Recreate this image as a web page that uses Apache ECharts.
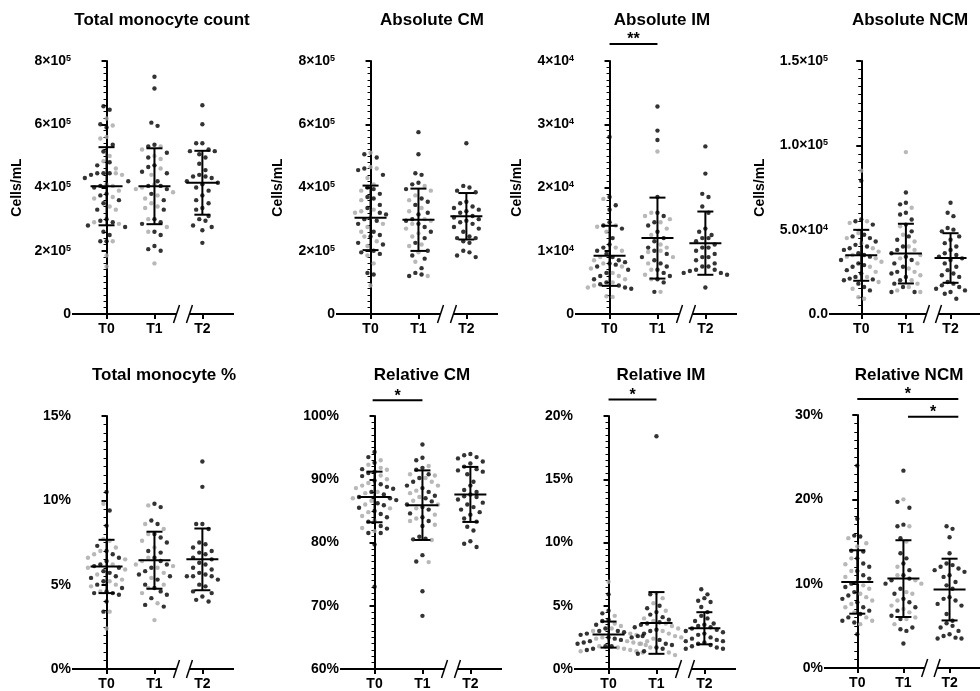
<!DOCTYPE html>
<html>
<head>
<meta charset="utf-8">
<title>Monocyte subsets</title>
<script src="https://cdn.jsdelivr.net/npm/echarts@6/dist/echarts.min.js"></script>
<style>html,body{margin:0;padding:0;background:#fff}#main{width:980px;height:691px}</style>
</head>
<body>
<div id="main"></div>
<script>
var timePoints = ['T0', 'T1', 'T2'];

// Total monocyte count (x10^5 cells/mL)
var countT0Black = [6.57, 6.46, 6.0, 5.9, 5.35, 5.14, 4.8, 4.7, 4.45, 4.45, 4.4, 4.45, 4.3, 4.2, 4.05, 4.0, 3.8, 3.75, 3.6, 3.5, 3.3, 3.0, 2.95, 2.9, 2.8, 2.75, 2.6, 2.5, 2.3, 2.3];
var countT0Gray = [6.18, 5.96, 5.6, 5.55, 5.0, 4.83, 4.6, 4.45, 4.4, 4.1, 4.05, 3.9, 3.7, 3.65, 3.4, 3.3, 2.9, 2.85, 2.3, 1.85, 1.5];
var countT1Black = [7.5, 7.13, 6.05, 5.95, 5.35, 5.3, 5.1, 4.95, 4.65, 4.7, 4.5, 4.45, 4.2, 4.05, 4.05, 3.95, 3.8, 3.6, 3.3, 3.0, 2.9, 2.85, 2.6, 2.5, 2.15, 2.05, 2.0];
var countT1Gray = [5.3, 5.2, 5.0, 4.9, 4.6, 4.4, 4.1, 4.0, 3.95, 3.85, 3.75, 3.65, 3.5, 3.4, 3.35, 3.0, 2.75, 2.6, 1.6];
var countT2Black = [6.6, 6.0, 5.4, 5.4, 5.2, 5.15, 5.15, 5.05, 4.95, 4.75, 4.55, 4.4, 4.35, 4.35, 4.3, 4.2, 4.15, 4.1, 4.0, 3.9, 3.75, 3.6, 3.5, 3.35, 3.3, 3.1, 3.0, 2.95, 2.8, 2.75, 2.65, 2.25];
var countMean = [4.04, 4.04, 4.15];
var countSd = [1.235, 1.2, 1.01];

// Absolute CM (x10^5 cells/mL)
var cmAbsT0Black = [5.05, 4.95, 4.6, 4.55, 4.4, 4.0, 3.95, 3.8, 3.7, 3.65, 3.45, 3.35, 3.2, 3.15, 3.0, 2.95, 2.85, 2.6, 2.5, 2.45, 2.25, 2.2, 2.0, 1.95, 1.9, 1.3, 1.25];
var cmAbsT0Gray = [5.1, 4.65, 4.6, 4.3, 4.1, 3.9, 3.6, 3.3, 3.25, 3.2, 3.05, 2.85, 2.75, 2.6, 2.45, 2.3, 2.15, 1.85, 1.6, 0.9];
var cmAbsT1Black = [5.75, 5.05, 4.45, 4.4, 4.15, 4.1, 3.95, 3.65, 3.55, 3.45, 3.2, 3.15, 3.0, 2.95, 2.85, 2.75, 2.6, 2.4, 2.25, 2.0, 1.85, 1.75, 1.45, 1.3, 1.2, 1.25];
var cmAbsT1Gray = [4.05, 3.9, 3.75, 3.6, 3.35, 3.25, 3.0, 2.95, 2.85, 2.7, 2.55, 2.45, 2.2, 2.15, 1.95, 1.65, 1.2];
var cmAbsT2Black = [5.4, 4.05, 4.0, 3.9, 3.85, 3.55, 3.5, 3.4, 3.35, 3.3, 3.25, 3.2, 3.1, 3.05, 3.0, 2.95, 2.9, 2.85, 2.75, 2.7, 2.6, 2.45, 2.4, 2.4, 2.3, 2.25, 2.0, 1.95, 1.85, 1.8];
var cmAbsMean = [3.04, 2.98, 3.09];
var cmAbsSd = [1.02, 0.985, 0.735];

// Absolute IM (x10^4 cells/mL)
var imAbsT0Black = [2.8, 1.85, 1.72, 1.65, 1.45, 1.4, 1.35, 1.2, 1.1, 1.05, 1.0, 0.95, 0.9, 0.85, 0.82, 0.8, 0.78, 0.75, 0.7, 0.65, 0.6, 0.55, 0.5, 0.47, 0.45, 0.42, 0.4];
var imAbsT0Gray = [1.82, 1.4, 1.38, 1.3, 1.05, 1.0, 0.9, 0.85, 0.8, 0.75, 0.72, 0.65, 0.6, 0.55, 0.5, 0.45, 0.42, 0.28, 0.27];
var imAbsT1Black = [3.28, 2.9, 2.75, 1.85, 1.6, 1.55, 1.45, 1.4, 1.3, 1.2, 1.15, 1.05, 1.0, 0.95, 0.9, 0.85, 0.8, 0.75, 0.7, 0.65, 0.6, 0.55, 0.5, 0.35];
var imAbsT1Gray = [2.57, 1.6, 1.55, 1.5, 1.45, 1.35, 1.25, 1.1, 1.05, 1.0, 0.98, 0.9, 0.8, 0.7, 0.62, 0.55, 0.35];
var imAbsT2Black = [2.65, 2.22, 1.9, 1.85, 1.7, 1.6, 1.35, 1.3, 1.25, 1.2, 1.2, 1.15, 1.1, 1.05, 1.05, 1.0, 0.95, 0.9, 0.9, 0.85, 0.8, 0.75, 0.75, 0.7, 0.7, 0.68, 0.65, 0.65, 0.62, 0.42];
var imAbsMean = [0.92, 1.2, 1.12];
var imAbsSd = [0.475, 0.64, 0.5];
var imAbsSig = [[0, 1, 4.27, '**']];

// Absolute NCM (x10^4 cells/mL)
var ncmAbsT0Black = [7.9, 5.6, 5.5, 5.3, 4.7, 4.6, 4.5, 4.3, 4.1, 4.0, 3.9, 3.8, 3.6, 3.5, 3.4, 3.2, 3.0, 2.9, 2.8, 2.6, 2.4, 2.2, 2.1, 2.05, 2.0, 1.8, 1.6, 1.4];
var ncmAbsT0Gray = [8.5, 5.5, 5.4, 4.8, 4.5, 4.2, 3.9, 3.7, 3.5, 3.4, 3.3, 3.1, 2.8, 2.5, 2.2, 1.9, 1.5, 1.0, 0.9];
var ncmAbsT1Black = [7.2, 6.6, 6.5, 6.0, 5.9, 5.6, 5.3, 4.9, 4.6, 4.4, 4.0, 3.8, 3.6, 3.4, 3.2, 3.0, 2.8, 2.5, 2.4, 2.2, 2.0, 1.8, 1.6, 1.3, 1.3];
var ncmAbsT1Gray = [9.6, 6.3, 5.2, 4.7, 4.3, 4.0, 3.8, 3.5, 3.3, 3.0, 2.7, 2.5, 2.3, 2.0, 1.8, 1.6, 1.4, 1.3];
var ncmAbsT2Black = [6.6, 6.0, 5.8, 5.1, 5.0, 4.9, 4.6, 4.4, 4.2, 4.0, 3.8, 3.6, 3.5, 3.4, 3.3, 3.2, 3.0, 2.8, 2.6, 2.4, 2.3, 2.2, 1.9, 1.8, 1.7, 1.6, 1.5, 1.4, 1.3, 1.2, 0.9];
var ncmAbsMean = [3.48, 3.58, 3.32];
var ncmAbsSd = [1.51, 1.77, 1.47];

// Total monocyte %
var pctT0Black = [10.5, 9.4, 8.5, 7.3, 7.0, 6.8, 6.6, 6.4, 6.2, 6.1, 6.0, 5.8, 5.7, 5.5, 5.4, 5.2, 5.0, 4.8, 4.6, 4.5, 4.5, 4.4, 4.0, 3.4];
var pctT0Gray = [9.8, 7.7, 7.6, 7.2, 7.0, 6.8, 6.6, 6.5, 6.2, 6.0, 5.9, 5.6, 5.3, 5.2, 5.0, 4.9, 4.6, 3.4, 2.4];
var pctT1Black = [9.8, 9.6, 8.8, 8.6, 8.0, 7.8, 7.5, 7.0, 6.9, 6.6, 6.4, 6.2, 6.0, 5.8, 5.6, 5.5, 5.3, 5.0, 4.8, 4.6, 4.4, 4.2, 3.8, 3.7];
var pctT1Gray = [9.7, 8.6, 8.3, 8.0, 7.6, 7.2, 6.6, 6.4, 6.2, 6.1, 6.0, 5.7, 5.4, 5.0, 4.8, 4.5, 3.9, 2.9];
var pctT2Black = [12.3, 10.8, 8.6, 8.6, 8.3, 7.5, 7.4, 7.2, 7.0, 6.9, 6.8, 6.6, 6.5, 6.3, 6.2, 6.0, 5.9, 5.7, 5.6, 5.5, 5.5, 5.5, 5.3, 5.0, 4.9, 4.6, 4.5, 4.3, 4.1, 4.0];
var pctMean = [6.08, 6.45, 6.5];
var pctSd = [1.58, 1.69, 1.83];

// Relative CM (%)
var cmRelT0Black = [94.3, 93.5, 92.6, 91.6, 91.2, 91.0, 90.5, 89.8, 89.2, 88.8, 88.5, 88.0, 87.6, 87.2, 87.0, 86.7, 86.2, 85.9, 85.5, 85.0, 84.5, 84.0, 83.3, 82.6, 82.2, 81.5, 81.5, 79.7, 73.0];
var cmRelT0Gray = [93.0, 92.3, 91.8, 91.5, 90.6, 90.0, 89.4, 89.0, 88.6, 88.0, 87.8, 87.0, 86.6, 86.0, 85.4, 84.8, 84.2, 83.5, 82.3, 81.8];
var cmRelT1Black = [95.5, 93.4, 93.0, 91.8, 91.5, 90.8, 90.2, 89.6, 89.0, 88.6, 88.0, 87.4, 87.0, 86.5, 86.0, 85.6, 85.2, 84.6, 84.0, 83.4, 82.6, 80.9, 80.6, 80.5, 78.0, 77.0, 72.3, 68.4];
var cmRelT1Gray = [92.1, 90.8, 90.6, 90.2, 89.6, 89.0, 88.2, 87.8, 87.2, 86.6, 86.0, 85.4, 84.4, 83.8, 83.4, 82.8, 80.4, 76.9];
var cmRelT2Black = [94.0, 93.8, 93.5, 93.3, 92.8, 92.5, 92.0, 91.6, 91.4, 91.2, 90.8, 89.6, 89.0, 88.3, 88.0, 87.6, 87.3, 87.2, 86.8, 86.3, 86.0, 85.6, 85.2, 84.8, 84.4, 83.8, 83.3, 82.5, 81.9, 80.2, 79.8, 79.3];
var cmRelMean = [87.2, 85.9, 87.6];
var cmRelSd = [4.0, 5.5, 4.35];
var cmRelSig = [[-0.04, 1, 102.5, '*']];

// Relative IM (%)
var imRelT0Black = [5.9, 4.6, 4.4, 3.9, 3.8, 3.5, 3.2, 3.0, 3.0, 2.9, 2.8, 2.7, 2.6, 2.6, 2.5, 2.4, 2.3, 2.2, 2.1, 2.0, 1.9, 1.8, 1.8, 1.6, 1.5, 1.3];
var imRelT0Gray = [6.9, 4.2, 3.6, 3.4, 3.2, 3.0, 2.8, 2.7, 2.5, 2.4, 2.2, 2.1, 2.0, 1.9, 1.8, 1.7, 1.6, 1.5, 1.4, 1.4, 1.3];
var imRelT1Black = [18.4, 5.9, 5.0, 4.8, 4.5, 4.3, 4.1, 3.9, 3.7, 3.6, 3.5, 3.3, 3.1, 3.0, 2.8, 2.6, 2.5, 2.3, 2.0, 1.9, 1.7, 1.6, 1.4, 1.2];
var imRelT1Gray = [6.0, 5.6, 5.2, 4.6, 4.0, 3.8, 3.6, 3.4, 3.2, 3.0, 2.8, 2.6, 2.5, 2.4, 2.2, 2.0, 1.7, 1.3, 1.1];
var imRelT2Black = [6.3, 5.9, 5.6, 5.4, 5.3, 4.9, 4.5, 4.2, 4.0, 3.8, 3.6, 3.5, 3.4, 3.3, 3.2, 3.1, 3.0, 2.9, 2.8, 2.7, 2.5, 2.4, 2.3, 2.2, 2.2, 2.1, 2.0, 1.9, 1.8, 1.7, 1.6, 1.6];
var imRelMean = [2.72, 3.64, 3.22];
var imRelSd = [1.03, 2.44, 1.27];
var imRelSig = [[0, 1, 21.3, '*']];

// Relative NCM (%)
var ncmRelT0Black = [24.0, 17.7, 15.7, 15.6, 13.9, 13.8, 13.0, 12.4, 12.0, 11.5, 11.0, 10.6, 10.0, 9.6, 9.0, 8.6, 8.2, 7.8, 7.2, 6.8, 6.4, 6.0, 5.6, 5.4, 4.0];
var ncmRelT0Gray = [15.4, 14.8, 14.4, 13.0, 12.3, 11.5, 10.8, 10.2, 9.8, 9.4, 8.8, 8.4, 8.0, 7.6, 7.2, 6.6, 6.0, 5.6, 5.2];
var ncmRelT1Black = [23.4, 19.7, 19.0, 17.0, 16.8, 15.4, 13.6, 13.0, 12.4, 11.6, 11.0, 10.6, 10.4, 10.0, 9.4, 8.8, 8.2, 7.8, 7.2, 6.8, 6.2, 5.8, 4.8, 4.6, 4.4, 2.9];
var ncmRelT1Gray = [20.0, 16.8, 15.0, 12.0, 11.0, 10.4, 10.0, 9.0, 8.8, 8.0, 7.4, 7.0, 6.6, 6.0, 5.8, 5.2];
var ncmRelT2Black = [16.8, 16.5, 15.5, 13.6, 12.4, 12.2, 12.0, 11.8, 11.6, 11.4, 11.0, 10.8, 10.2, 9.8, 9.4, 8.4, 8.2, 8.0, 7.6, 7.4, 6.4, 5.6, 5.3, 5.0, 4.8, 4.4, 4.0, 3.8, 3.6, 3.5, 3.5];
var ncmRelMean = [10.2, 10.6, 9.3];
var ncmRelSd = [3.76, 4.55, 3.66];
var ncmRelSig = [[0, 2.19, 31.9, '*'], [1.1, 2.19, 29.8, '*']];

// ---------------------------------------------------------------
var FONT = '"Liberation Sans", Arial, sans-serif';
var GRAY = '#a6a6a6';
var X_MIN = -0.7, X_MAX = 2.66, BREAK_A = 1.46, BREAK_B = 1.73;
var GRID_W = 161, GRID_H = 253;
var PX_PER_CAT = GRID_W / (X_MAX - X_MIN);
var DOT_GAP = 6.2, ROW_PX = 8.5, DOT = 4.4;

var panels = [
  {title: 'Total monocyte count', unit: 1e5, fmt: 'sci', digits: 0, yName: 'Cells/mL', min: 0, max: 8, step: 2,
   black: [countT0Black, countT1Black, countT2Black], gray: [countT0Gray, countT1Gray, []], mean: countMean, sd: countSd, sig: [],
   left: 73, top: 61, titleX: 162, titleY: 20, nameGap: 49},
  {title: 'Absolute CM', unit: 1e5, fmt: 'sci', digits: 0, yName: 'Cells/mL', min: 0, max: 8, step: 2,
   black: [cmAbsT0Black, cmAbsT1Black, cmAbsT2Black], gray: [cmAbsT0Gray, cmAbsT1Gray, []], mean: cmAbsMean, sd: cmAbsSd, sig: [],
   left: 337, top: 61, titleX: 432, titleY: 20, nameGap: 52},
  {title: 'Absolute IM', unit: 1e4, fmt: 'sci', digits: 0, yName: 'Cells/mL', min: 0, max: 4, step: 1,
   black: [imAbsT0Black, imAbsT1Black, imAbsT2Black], gray: [imAbsT0Gray, imAbsT1Gray, []], mean: imAbsMean, sd: imAbsSd, sig: imAbsSig,
   left: 576, top: 61, titleX: 662, titleY: 20, nameGap: 52},
  {title: 'Absolute NCM', unit: 1e4, fmt: 'sci', digits: 1, yName: 'Cells/mL', min: 0, max: 15, step: 5,
   black: [ncmAbsT0Black, ncmAbsT1Black, ncmAbsT2Black], gray: [ncmAbsT0Gray, ncmAbsT1Gray, []], mean: ncmAbsMean, sd: ncmAbsSd, sig: [],
   left: 830, top: 61, titleX: 910, titleY: 20, nameGap: 63},
  {title: 'Total monocyte %', fmt: 'pct', yName: '', min: 0, max: 15, step: 5,
   black: [pctT0Black, pctT1Black, pctT2Black], gray: [pctT0Gray, pctT1Gray, []], mean: pctMean, sd: pctSd, sig: [],
   left: 73, top: 416, titleX: 164, titleY: 375},
  {title: 'Relative CM', fmt: 'pct', yName: '', min: 60, max: 100, step: 10,
   black: [cmRelT0Black, cmRelT1Black, cmRelT2Black], gray: [cmRelT0Gray, cmRelT1Gray, []], mean: cmRelMean, sd: cmRelSd, sig: cmRelSig,
   left: 341, top: 416, titleX: 422, titleY: 375},
  {title: 'Relative IM', fmt: 'pct', yName: '', min: 0, max: 20, step: 5,
   black: [imRelT0Black, imRelT1Black, imRelT2Black], gray: [imRelT0Gray, imRelT1Gray, []], mean: imRelMean, sd: imRelSd, sig: imRelSig,
   left: 575, top: 416, titleX: 661, titleY: 375},
  {title: 'Relative NCM', fmt: 'pct', yName: '', min: 0, max: 30, step: 10,
   black: [ncmRelT0Black, ncmRelT1Black, ncmRelT2Black], gray: [ncmRelT0Gray, ncmRelT1Gray, []], mean: ncmRelMean, sd: ncmRelSd, sig: ncmRelSig,
   left: 825, top: 415, titleX: 909, titleY: 375}
];

function sciLabel(v, unit, digits) {
  var real = v * unit;
  if (real === 0) return digits ? '0.0' : '0';
  var e = Math.floor(Math.log10(real) + 1e-9);
  var m = real / Math.pow(10, e);
  return '{b|' + m.toFixed(digits) + '×10}{s|' + e + '}';
}

// GraphPad-like scatter: points that share a row get spread sideways,
// filled from the middle outwards so rows stay level
function swarm(black, gray, xc, pxPerUnit) {
  var pts = [];
  black.forEach(function (v) { pts.push({v: v, c: 'b'}); });
  gray.forEach(function (v) { pts.push({v: v, c: 'g'}); });
  pts.sort(function (a, b) { return b.v - a.v; });
  var rows = [], cur = null;
  pts.forEach(function (p) {
    if (cur && (cur.top - p.v) * pxPerUnit < ROW_PX) cur.items.push(p);
    else { cur = {top: p.v, items: [p]}; rows.push(cur); }
  });
  rows.forEach(function (r) {
    var n = r.items.length;
    var slots = [];
    for (var s = 0; s < n; s++) slots.push(s - (n - 1) / 2);
    slots.sort(function (a, b) { return Math.abs(a) - Math.abs(b) || a - b; });
    r.items.forEach(function (p, i) { p.x = xc + slots[i] * DOT_GAP / PX_PER_CAT; });
  });
  return pts;
}

var lineStyle = {stroke: '#000', lineWidth: 2};
var grids = [], xAxes = [], yAxes = [], series = [], graphics = [];

panels.forEach(function (p, i) {
  grids.push({left: p.left, top: p.top, width: GRID_W, height: GRID_H});
  xAxes.push({
    gridIndex: i, type: 'value', min: X_MIN, max: X_MAX,
    axisLine: {show: false}, splitLine: {show: false},
    axisTick: {show: true, customValues: [0, 1, 2], length: 5, lineStyle: {color: '#000', width: 2}},
    axisLabel: {customValues: [0, 1, 2], margin: 8, color: '#000', fontSize: 14, fontWeight: 'bold', fontFamily: FONT,
      formatter: function (v) { return timePoints[Math.round(v)]; }}
  });
  yAxes.push({
    gridIndex: i, type: 'value', min: p.min, max: p.max, interval: p.step,
    name: p.yName, nameLocation: 'middle', nameGap: p.nameGap || 40,
    nameTextStyle: {color: '#000', fontSize: 14, fontWeight: 'bold', fontFamily: FONT},
    axisLine: {show: true, lineStyle: {color: '#000', width: 2}},
    axisTick: {show: true, length: 5, lineStyle: {color: '#000', width: 2}},
    minorTick: {show: true, splitNumber: 10, length: 3, lineStyle: {color: '#000', width: 1}},
    splitLine: {show: false},
    axisLabel: {
      margin: 2, color: '#000', fontSize: 14, fontWeight: 'bold', fontFamily: FONT,
      formatter: function (v) { return p.fmt === 'pct' ? v + '%' : sciLabel(v, p.unit, p.digits); },
      rich: {
        b: {fontSize: 14, fontWeight: 'bold', fontFamily: FONT, color: '#000'},
        s: {fontSize: 9, fontWeight: 'bold', fontFamily: FONT, color: '#000', verticalAlign: 'top'}
      }
    }
  });

  var pxPerUnit = GRID_H / (p.max - p.min);
  var grayPts = [], blackPts = [];
  for (var k = 0; k < 3; k++) {
    swarm(p.black[k], p.gray[k], k, pxPerUnit).forEach(function (pt) {
      (pt.c === 'b' ? blackPts : grayPts).push([pt.x, pt.v]);
    });
  }
  series.push({type: 'scatter', xAxisIndex: i, yAxisIndex: i, data: grayPts, symbolSize: DOT,
    itemStyle: {color: GRAY}, silent: true, z: 2});
  series.push({type: 'scatter', xAxisIndex: i, yAxisIndex: i, data: blackPts, symbolSize: DOT,
    itemStyle: {color: '#000'}, silent: true, z: 3});

  // mean +/- SD
  series.push({
    type: 'custom', xAxisIndex: i, yAxisIndex: i, z: 5, silent: true,
    data: p.mean.map(function (m, k) { return [k, m, p.sd[k]]; }),
    renderItem: function (params, api) {
      var x = api.value(0), m = api.value(1), s = api.value(2);
      var c = api.coord([x, m]), hi = api.coord([x, m + s]), lo = api.coord([x, m - s]);
      return {type: 'group', children: [
        {type: 'line', shape: {x1: c[0], y1: hi[1], x2: c[0], y2: lo[1]}, style: lineStyle},
        {type: 'line', shape: {x1: c[0] - 16, y1: c[1], x2: c[0] + 16, y2: c[1]}, style: lineStyle},
        {type: 'line', shape: {x1: c[0] - 8, y1: hi[1], x2: c[0] + 8, y2: hi[1]}, style: lineStyle},
        {type: 'line', shape: {x1: c[0] - 8, y1: lo[1], x2: c[0] + 8, y2: lo[1]}, style: lineStyle}
      ]};
    }
  });

  // x axis line with break between T1 and T2
  series.push({
    type: 'custom', xAxisIndex: i, yAxisIndex: i, z: 6, silent: true, data: [[0, p.min]],
    renderItem: function (params, api) {
      var a = api.coord([X_MIN, p.min]), b1 = api.coord([BREAK_A, p.min]);
      var b2 = api.coord([BREAK_B, p.min]), e = api.coord([X_MAX, p.min]);
      var sl = {stroke: '#000', lineWidth: 1.5};
      return {type: 'group', children: [
        {type: 'line', shape: {x1: a[0] - 1, y1: a[1], x2: b1[0], y2: a[1]}, style: lineStyle},
        {type: 'line', shape: {x1: b2[0], y1: a[1], x2: e[0], y2: a[1]}, style: lineStyle},
        {type: 'line', shape: {x1: b1[0] - 3, y1: a[1] + 9, x2: b1[0] + 3, y2: a[1] - 9}, style: sl},
        {type: 'line', shape: {x1: b2[0] - 3, y1: a[1] + 9, x2: b2[0] + 3, y2: a[1] - 9}, style: sl}
      ]};
    }
  });

  // significance bars
  if (p.sig.length) {
    series.push({
      type: 'custom', xAxisIndex: i, yAxisIndex: i, z: 6, silent: true,
      data: p.sig.map(function (s) { return [s[0], s[1], s[2]]; }),
      renderItem: function (params, api) {
        var s1 = api.coord([api.value(0), api.value(2)]), s2 = api.coord([api.value(1), api.value(2)]);
        return {type: 'group', children: [
          {type: 'line', shape: {x1: s1[0], y1: s1[1], x2: s2[0], y2: s2[1]}, style: lineStyle},
          {type: 'text', style: {text: p.sig[params.dataIndex][3], x: (s1[0] + s2[0]) / 2, y: s1[1] - 4,
            textAlign: 'center', textVerticalAlign: 'middle', fill: '#000',
            font: 'bold 16px ' + FONT}}
        ]};
      }
    });
  }

  graphics.push({type: 'text', x: p.titleX, y: p.titleY,
    style: {text: p.title, textAlign: 'center', textVerticalAlign: 'middle', fill: '#000',
      font: 'bold 17px ' + FONT}});
});

var chart = echarts.init(document.getElementById('main'));
chart.setOption({
  animation: false,
  backgroundColor: '#fff',
  grid: grids,
  xAxis: xAxes,
  yAxis: yAxes,
  series: series,
  graphic: graphics
});
</script>
</body>
</html>
